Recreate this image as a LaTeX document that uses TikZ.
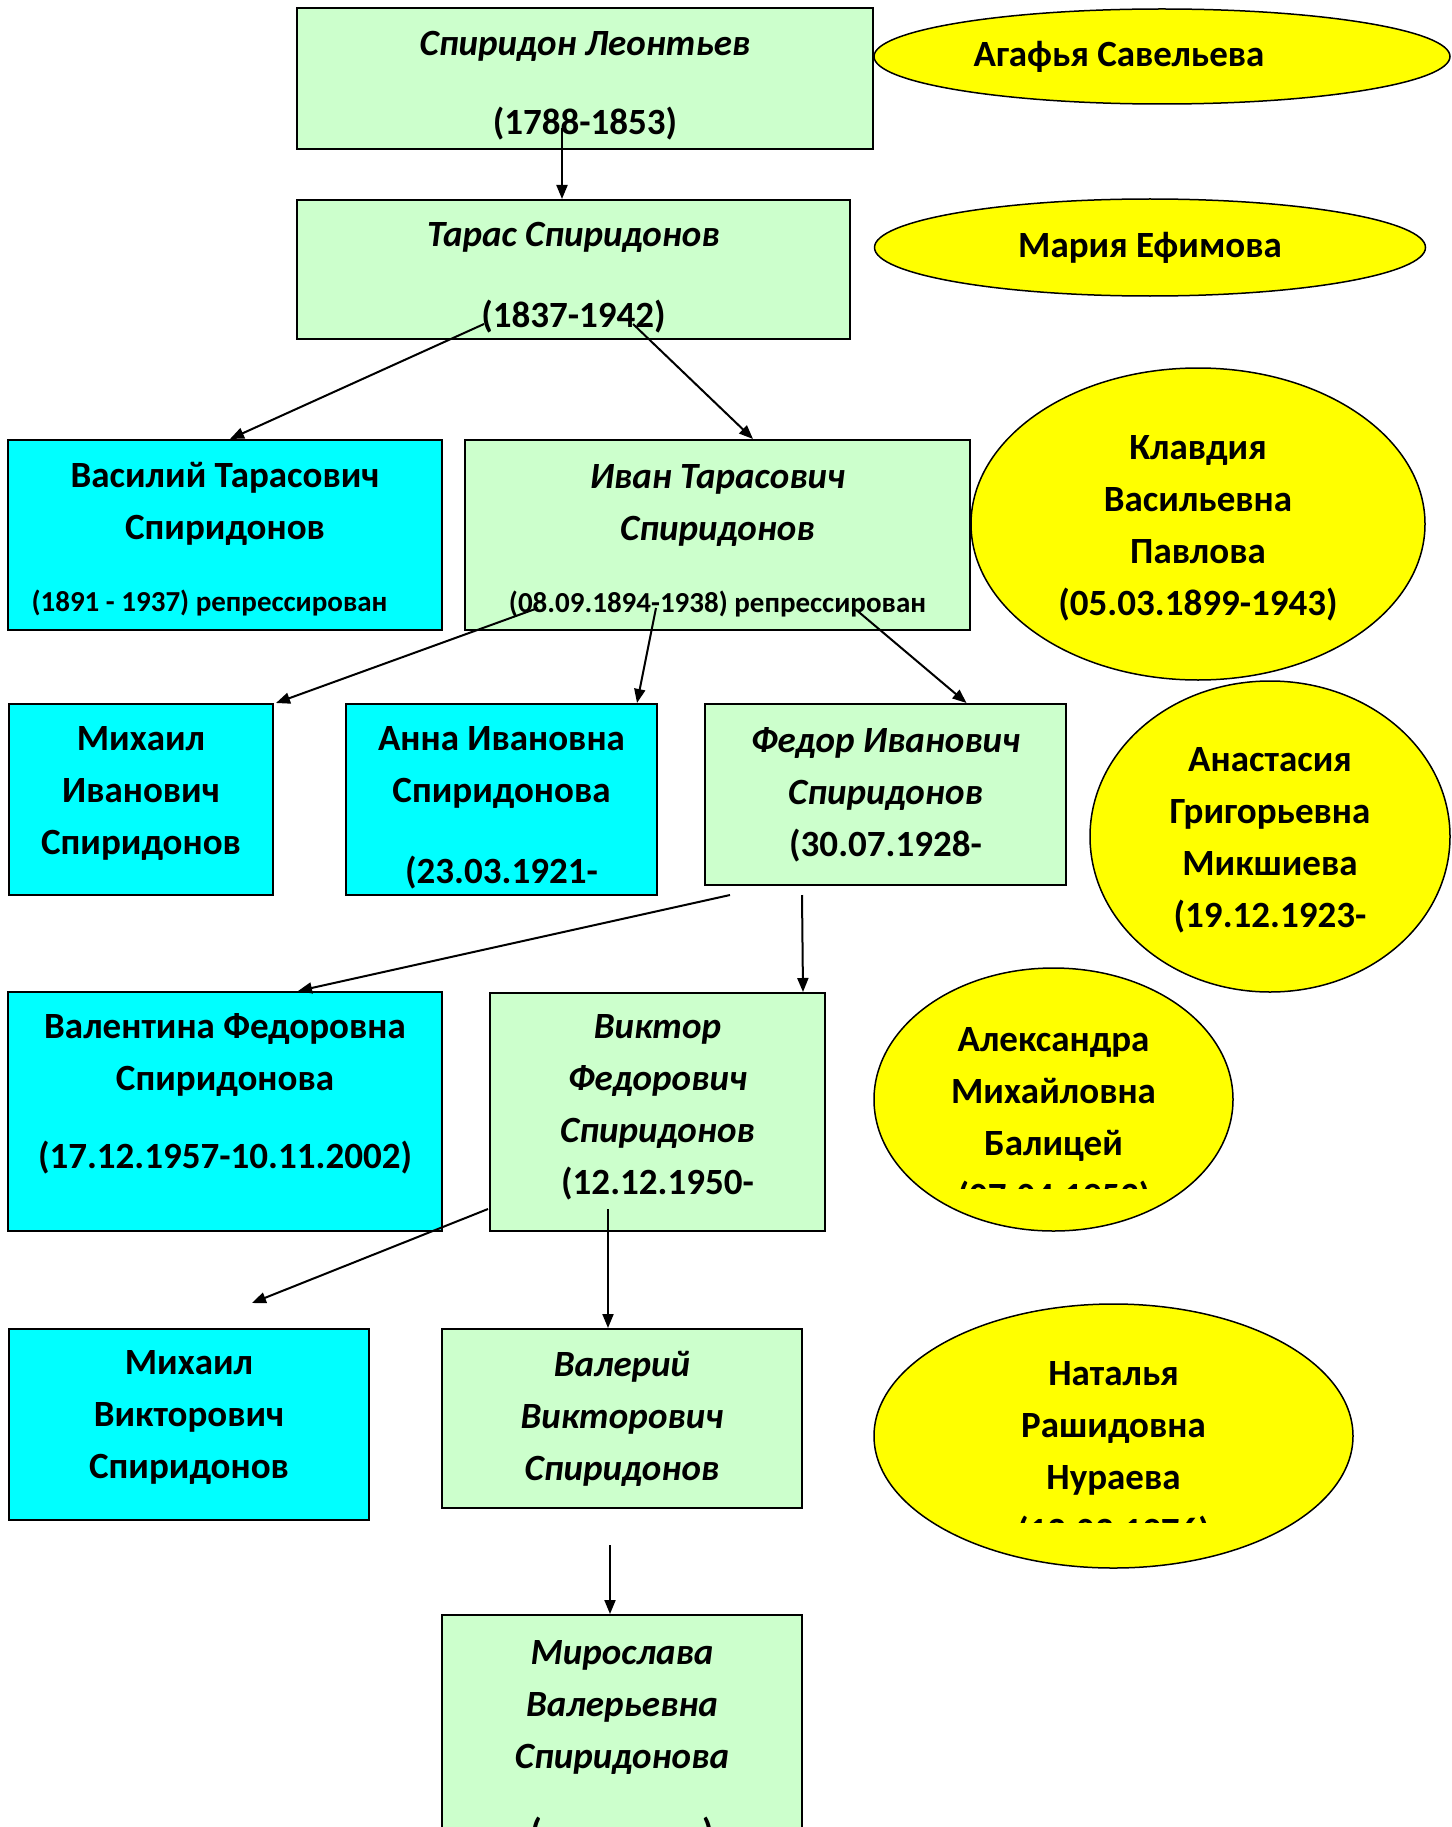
\documentclass[tikz,border=0pt]{standalone}
\usepackage{fontspec}
\setmainfont{Carlito}
\usetikzlibrary{arrows.meta,shapes.geometric}
\definecolor{boxgreen}{HTML}{CCFFCC}
\definecolor{boxcyan}{HTML}{00FFFF}
\definecolor{ellyellow}{HTML}{FFFF00}
\newcommand\smallf{\fontsize{29}{52}\selectfont}
\newcommand\padtop[1]{\mbox{}\\[#1]}
\newcommand\padbot[1]{\\[#1]\mbox{}}
\begin{document}
\begin{tikzpicture}[x=1pt,y=-1pt,
  every node/.style={font=\fontsize{37}{52}\selectfont\bfseries, align=center, inner sep=0pt},
  gbox/.style={draw=black, line width=2pt, fill=boxgreen, rectangle},
  cbox/.style={draw=black, line width=2pt, fill=boxcyan, rectangle},
  yell/.style={draw=black, line width=1.5pt, fill=ellyellow, ellipse},
  arr/.style={line width=2pt, -{Triangle[length=14pt,width=11pt]}}]
\useasboundingbox (0,0) rectangle (1451,1827);
\fill[white] (0,0) rectangle (1451,1827);

% generation 1
\node[gbox, minimum width=576pt, minimum height=141pt] (spir) at (585,78.5)
  {\padtop{-14pt}\textit{Спиридон Леонтьев}\\[27pt](1788-1853)};
\node[yell, minimum width=576pt, minimum height=95pt] (agafya) at (1162,56.5)
  {Агафья Савельева\hspace*{86pt}};

% generation 2
\node[gbox, minimum width=553pt, minimum height=139pt] (taras) at (573.5,269.5)
  {\padtop{-12pt}\textit{Тарас Спиридонов}\\[29pt](1837-1942)};
\node[yell, minimum width=551pt, minimum height=97pt] (maria) at (1150,247.5)
  {Мария Ефимова};

% generation 3
\node[cbox, minimum width=434pt, minimum height=190pt] (vasiliy) at (225,535)
  {\padtop{-18pt}Василий Тарасович\\Спиридонов\\[20pt]{\smallf (1891 - 1937) репрессирован\hspace*{31pt}}};
\node[gbox, minimum width=505pt, minimum height=190pt] (ivan) at (717.5,535)
  {\padtop{-16pt}\textit{Иван Тарасович}\\\textit{Спиридонов}\\[20pt]{\smallf (08.09.1894-1938) репрессирован}};
\node[yell, minimum width=454pt, minimum height=312pt] (klavdia) at (1198,524)
  {\padtop{-20pt}Клавдия\\Васильевна\\Павлова\\(05.03.1899-1943)};

% generation 4
\node[cbox, minimum width=264pt, minimum height=191pt] (mikhailI) at (141,799.5)
  {Михаил\\Иванович\\Спиридонов\padbot{-34pt}};
\node[cbox, minimum width=311pt, minimum height=191pt] (anna) at (501.5,799.5)
  {\padtop{-12pt}Анна Ивановна\\Спиридонова\\[29pt](23.03.1921-};
\node[gbox, minimum width=361pt, minimum height=181pt] (fedor) at (885.5,794.5)
  {\textit{Федор Иванович}\\\textit{Спиридонов}\\(30.07.1928-};
\node[yell, minimum width=360pt, minimum height=311pt] (anastasia) at (1270,836.5)
  {\padtop{-20pt}Анастасия\\Григорьевна\\Микшиева\\(19.12.1923-};

% generation 5
\node[cbox, minimum width=434pt, minimum height=239pt] (valentina) at (225,1111.5)
  {Валентина Федоровна\\Спиридонова\\[26pt](17.12.1957-10.11.2002)\padbot{-11pt}};
\node[gbox, minimum width=335pt, minimum height=238pt] (viktor) at (657.5,1112)
  {\textit{Виктор}\\\textit{Федорович}\\\textit{Спиридонов}\\(12.12.1950-\padbot{-36pt}};
\node[yell, minimum width=359pt, minimum height=263pt] (alexandra) at (1053.5,1099.5)
  {Александра\\Михайловна\\Балицей\padbot{-35pt}};
\begin{scope}
  \clip (874,968) rectangle (1233,1188);
  \node[anchor=base] (alexdate) at (1054,1208) {(07.04.1953)};
\end{scope}

% generation 6
\node[cbox, minimum width=360pt, minimum height=191pt] (mikhailV) at (189,1424.5)
  {Михаил\\Викторович\\Спиридонов\padbot{-32pt}};
\node[gbox, minimum width=360pt, minimum height=179pt] (valeriy) at (622,1418.5)
  {\textit{Валерий}\\\textit{Викторович}\\\textit{Спиридонов}};
\node[yell, minimum width=479pt, minimum height=264pt] (natalia) at (1113.5,1436)
  {Наталья\\Рашидовна\\Нураева\padbot{-31pt}};
\begin{scope}
  \clip (874,1304) rectangle (1353,1522);
  \node[anchor=base] (natdate) at (1113.5,1543) {(12.03.1976)};
\end{scope}

% generation 7
\node[gbox, minimum width=360pt, minimum height=261pt] (miroslava) at (622,1745.5)
  {\textit{Мирослава}\\\textit{Валерьевна}\\\textit{Спиридонова}\\[24pt](\hspace*{160pt})};

% connector start points
\coordinate (s1) at (562,128);
\coordinate (s2) at (484,324);
\coordinate (s3) at (633,324);
\coordinate (s4) at (538,608);
\coordinate (s5) at (656,608);
\coordinate (s6) at (854,608);
\coordinate (s7) at (730,895);
\coordinate (s8) at (802,895);
\coordinate (s9) at (488,1209);
\coordinate (s10) at (608,1209);
\coordinate (s11) at (610,1545);
\coordinate (e9) at (252,1303);

\draw[arr] (s1) -- ([xshift=-11.5pt]taras.north);
\draw[arr] (s2) -- ([xshift=5pt]vasiliy.north);
\draw[arr] (s3) -- ([xshift=35.5pt]ivan.north);
\draw[arr] (s4) -- ([xshift=2pt]mikhailI.north east);
\draw[arr] (s5) -- ([xshift=-21pt]anna.north east);
\draw[arr] (s6) -- ([xshift=81pt]fedor.north);
\draw[arr] (s7) -- ([xshift=73pt]valentina.north);
\draw[arr] (s8) -- ([xshift=-23pt]viktor.north east);
\draw[arr] (s9) -- (e9);
\draw[arr] (s10) -- ([xshift=-14pt]valeriy.north);
\draw[arr] (s11) -- ([xshift=-12pt]miroslava.north);
\end{tikzpicture}
\end{document}
